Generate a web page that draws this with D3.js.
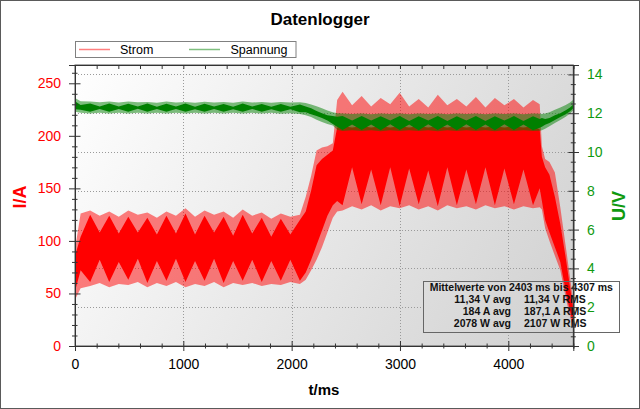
<!DOCTYPE html>
<html><head><meta charset="utf-8">
<script src="https://cdn.jsdelivr.net/npm/d3@7"></script>
<style>
html,body{margin:0;padding:0;background:#fff;}
svg{display:block;font-family:"Liberation Sans",Arial,sans-serif;}
</style></head><body>
<svg id="chart" width="640" height="409"></svg>
<script>
// ---------- data ----------
const chartTitle = "Datenlogger";
const seriesNames = ["Strom", "Spannung"];
const xTickValues = [0, 1000, 2000, 3000, 4000];
const leftTickValues = [0, 50, 100, 150, 200, 250];
const rightTickValues = [0, 2, 4, 6, 8, 10, 12, 14];
const xTitle = "t/ms", leftTitle = "I/A", rightTitle = "U/V";

const timeMs = [0, 52, 140, 228, 316, 404, 492, 580, 668, 756, 844, 932, 1020, 1108, 1196, 1284, 1372, 1460, 1548, 1636, 1724, 1812, 1900, 1988, 2076,
  2130, 2180, 2230, 2280, 2330, 2380,
  2420, 2470, 2558, 2646, 2734, 2822, 2910, 2997, 3085, 3173, 3261, 3349, 3437, 3525, 3613, 3701, 3789, 3876, 3964, 4052, 4140, 4228, 4290,
  4310, 4340, 4380, 4430, 4480, 4530, 4570, 4600];

// Strom (A): outer envelope (light) and dense core (dark)
const stromOuterMax = [92, 126, 129, 124, 128, 123, 129, 125, 127, 122, 128, 124, 131, 123, 129, 125, 128, 122, 130, 124, 127, 121, 126, 123, 125,
  142, 162, 186, 189, 190, 193,
  234, 242, 229, 238, 228, 236, 230, 241, 228, 235, 227, 239, 229, 235, 228, 237, 227, 236, 229, 235, 227, 234, 230,
  190, 178, 175, 165, 132, 95, 65, 42];
const stromOuterMin = [44, 55, 57, 60, 56, 59, 58, 61, 56, 60, 57, 61, 56, 59, 57, 61, 56, 60, 58, 60, 57, 59, 58, 61, 59,
  63, 72, 82, 94, 108, 122,
  128, 129, 133, 130, 134, 129, 133, 131, 134, 130, 133, 129, 134, 131, 133, 130, 134, 131, 133, 130, 133, 131, 132,
  130, 112, 100, 86, 72, 46, 28, 16];
const stromCoreMax = [86, 104, 125, 108, 124, 107, 123, 108, 122, 106, 124, 107, 126, 106, 124, 108, 123, 105, 125, 107, 122, 104, 121, 106, 120,
  128, 148, 172, 178, 182, 186,
  208, 209, 208, 209, 208, 209, 208, 209, 208, 209, 208, 209, 208, 209, 208, 209, 208, 209, 208, 209, 208, 209, 206,
  180, 170, 163, 142, 116, 84, 56, 36];
const stromCoreMin = [52, 72, 61, 82, 61, 80, 63, 83, 60, 81, 62, 83, 61, 81, 62, 83, 60, 81, 62, 82, 61, 81, 62, 82, 62,
  70, 82, 96, 110, 124, 134,
  138, 134, 170, 135, 168, 134, 170, 133, 169, 135, 167, 133, 170, 134, 168, 135, 170, 134, 169, 135, 168, 134, 150,
  138, 120, 108, 94, 80, 52, 33, 21];

// Spannung (V)
const spannOuterMax = [12.78, 12.62, 12.6, 12.56, 12.6, 12.55, 12.6, 12.56, 12.58, 12.54, 12.6, 12.55, 12.58, 12.54, 12.59, 12.55, 12.58, 12.54, 12.6, 12.55, 12.58, 12.54, 12.58, 12.55, 12.56,
  12.52, 12.45, 12.36, 12.26, 12.14, 12.05,
  12.0, 11.98, 11.96, 11.98, 11.95, 11.98, 11.96, 11.99, 11.95, 11.98, 11.96, 11.99, 11.95, 11.98, 11.96, 11.98, 11.95, 11.98, 11.96, 11.98, 11.95, 11.98, 11.97,
  11.96, 11.98, 12.05, 12.18, 12.3, 12.42, 12.55, 12.7];
const spannOuterMin = [12.08, 12.02, 11.98, 12.03, 11.98, 12.02, 11.99, 12.03, 11.98, 12.02, 11.98, 12.03, 11.99, 12.02, 11.98, 12.03, 11.98, 12.02, 11.99, 12.02, 11.98, 12.02, 11.97, 12.0, 11.96,
  11.9, 11.8, 11.66, 11.55, 11.45, 11.36,
  11.15, 11.08, 11.12, 11.08, 11.12, 11.07, 11.12, 11.08, 11.12, 11.08, 11.12, 11.07, 11.12, 11.08, 11.12, 11.08, 11.12, 11.07, 11.12, 11.08, 11.12, 11.08, 11.1,
  11.12, 11.2, 11.33, 11.5, 11.65, 11.82, 11.98, 12.15];
const spannCoreMax = [12.62, 12.42, 12.5, 12.35, 12.5, 12.34, 12.49, 12.35, 12.5, 12.33, 12.49, 12.34, 12.5, 12.33, 12.49, 12.35, 12.48, 12.33, 12.5, 12.34, 12.48, 12.33, 12.47, 12.33, 12.45,
  12.35, 12.25, 12.12, 12.0, 11.9, 11.85,
  11.82, 11.85, 11.62, 11.85, 11.62, 11.84, 11.62, 11.85, 11.6, 11.84, 11.62, 11.85, 11.6, 11.84, 11.62, 11.85, 11.6, 11.84, 11.62, 11.85, 11.6, 11.84, 11.7,
  11.75, 11.7, 11.75, 11.9, 12.0, 12.15, 12.3, 12.45];
const spannCoreMin = [12.2, 12.18, 12.08, 12.22, 12.07, 12.22, 12.08, 12.23, 12.07, 12.22, 12.08, 12.22, 12.08, 12.21, 12.07, 12.22, 12.08, 12.21, 12.08, 12.22, 12.07, 12.21, 12.07, 12.2, 12.05,
  12.05, 11.95, 11.85, 11.75, 11.62, 11.45,
  11.3, 11.13, 11.42, 11.13, 11.42, 11.12, 11.43, 11.13, 11.42, 11.12, 11.43, 11.13, 11.42, 11.12, 11.43, 11.13, 11.42, 11.12, 11.43, 11.13, 11.42, 11.12, 11.25,
  11.3, 11.4, 11.5, 11.65, 11.8, 11.95, 12.1, 12.25];

const infoHeader = "Mittelwerte von 2403 ms bis 4307 ms";
const infoAvg = ["11,34 V avg", "184 A avg", "2078 W avg"];
const infoRms = ["11,34 V RMS", "187,1 A RMS", "2107 W RMS"];

// ---------- layout ----------
const W = 640, H = 409;
const X0 = 75, X1 = 573.3, Y0 = 346, Y1 = 65;
const RED = "#ff0000", GREEN = "#008000", GREEN_TXT = "#0f9a0f";

const svg = d3.select("#chart");
const defs = svg.append("defs");
const grad = defs.append("linearGradient").attr("id", "bg")
  .attr("gradientUnits", "userSpaceOnUse")
  .attr("x1", X0).attr("y1", Y1).attr("x2", X1).attr("y2", Y0);
grad.append("stop").attr("offset", 0).attr("stop-color", "#ffffff");
grad.append("stop").attr("offset", 1).attr("stop-color", "#d0d0d0");
defs.append("clipPath").attr("id", "clip").append("rect")
  .attr("x", X0).attr("y", Y1).attr("width", X1 - X0).attr("height", Y0 - Y1);

svg.append("rect").attr("width", W).attr("height", H).attr("fill", "#fff");

const x = d3.scaleLinear().domain([0, 4600]).range([X0, X1]);
const yL = d3.scaleLinear().domain([0, 267.4]).range([Y0, Y1]);
const yR = d3.scaleLinear().domain([0, 14.485]).range([Y0, Y1]);

// plot background
svg.append("rect").attr("x", X0).attr("y", Y1).attr("width", X1 - X0).attr("height", Y0 - Y1)
  .attr("fill", "url(#bg)");

// grid
const grid = svg.append("g").attr("stroke", "#9a9a9a").attr("stroke-dasharray", "1,2").attr("stroke-width", 1);
grid.selectAll("line.h").data(rightTickValues.filter(v => v > 0)).join("line")
  .attr("x1", X0).attr("x2", X1).attr("y1", d => Math.round(yR(d)) + 0.5).attr("y2", d => Math.round(yR(d)) + 0.5);
grid.selectAll("line.v").data(xTickValues.filter(v => v > 0)).join("line")
  .attr("y1", Y1).attr("y2", Y0).attr("x1", d => Math.round(x(d)) + 0.5).attr("x2", d => Math.round(x(d)) + 0.5);

// info box background: white outside the plot, plot gradient inside
const bx = 423.5, by = 281.5, bw = 196, bh = 51;
svg.append("rect").attr("x", X1).attr("y", by).attr("width", bx + bw - X1).attr("height", bh).attr("fill", "#fff");
svg.append("rect").attr("x", bx).attr("y", by).attr("width", X1 - bx).attr("height", bh).attr("fill", "url(#bg)");

// data
const rows = timeMs.map((t, i) => ({
  t, sOMax: stromOuterMax[i], sOMin: stromOuterMin[i], sCMax: stromCoreMax[i], sCMin: stromCoreMin[i],
  uOMax: spannOuterMax[i], uOMin: spannOuterMin[i], uCMax: spannCoreMax[i], uCMin: spannCoreMin[i]
}));
const plot = svg.append("g").attr("clip-path", "url(#clip)");
const area = (y, lo, hi) => d3.area().x(d => x(d.t)).y0(d => y(d[lo])).y1(d => y(d[hi]));
plot.append("path").datum(rows).attr("d", area(yL, "sOMin", "sOMax")).attr("fill", RED).attr("fill-opacity", 0.5);
plot.append("path").datum(rows).attr("d", area(yL, "sCMin", "sCMax")).attr("fill", RED);
plot.append("path").datum(rows).attr("d", area(yR, "uOMin", "uOMax")).attr("fill", GREEN).attr("fill-opacity", 0.5);
plot.append("path").datum(rows).attr("d", area(yR, "uCMin", "uCMax")).attr("fill", GREEN);

// plot frame
svg.append("rect").attr("x", X0).attr("y", Y1).attr("width", X1 - X0).attr("height", Y0 - Y1)
  .attr("fill", "none").attr("stroke", "#555");

// info box frame + text
svg.append("rect").attr("x", bx).attr("y", by).attr("width", bw).attr("height", bh)
  .attr("fill", "none").attr("stroke", "#666");
const it = svg.append("g").style("font-size", "10.5px").style("font-weight", "bold").attr("fill", "#111");
it.append("text").attr("x", 521.3).attr("y", 291).attr("text-anchor", "middle").text(infoHeader);
infoAvg.forEach((s, i) => {
  it.append("text").attr("x", 511).attr("y", 303 + i * 12).attr("text-anchor", "end").text(s);
  it.append("text").attr("x", 524).attr("y", 303 + i * 12).attr("text-anchor", "start").text(infoRms[i]);
});

// axes
function finish(g) { g.select(".domain").attr("stroke", "#333"); g.selectAll(".tick line").attr("stroke", "#333"); }
const fs = "14px";
const fam = "Liberation Sans, Arial, sans-serif";
// left
const gL = svg.append("g").attr("transform", `translate(${X0},0)`);
gL.call(d3.axisLeft(yL).tickValues(d3.range(0, 267, 10).filter(v => !leftTickValues.includes(v))).tickSize(3).tickFormat(""));
gL.selectAll(".tick line").attr("x1", 2.5);
const gL2 = svg.append("g").attr("transform", `translate(${X0},0)`);
gL2.call(d3.axisLeft(yL).tickValues(leftTickValues).tickSize(6).tickPadding(8).tickFormat(d3.format("d")));
gL2.selectAll(".tick line").attr("x1", 5.5);
gL2.selectAll(".tick text").attr("fill", RED).style("font-size", fs).style("font-family", fam);
finish(gL); finish(gL2);
// right
const gR = svg.append("g").attr("transform", `translate(${X1},0)`);
gR.call(d3.axisRight(yR).tickValues(d3.range(0, 14.49, 0.5).filter(v => !rightTickValues.includes(v))).tickSize(2.5).tickFormat(""));
gR.selectAll(".tick line").attr("x1", -2.5);
const gR2 = svg.append("g").attr("transform", `translate(${X1},0)`);
gR2.call(d3.axisRight(yR).tickValues(rightTickValues).tickSize(5.7).tickPadding(8).tickFormat(d3.format("d")));
gR2.selectAll(".tick line").attr("x1", -5);
gR2.selectAll(".tick text").attr("fill", GREEN_TXT).style("font-size", fs).style("font-family", fam);
finish(gR); finish(gR2);
// bottom
const gB = svg.append("g").attr("transform", `translate(0,${Y0})`);
gB.call(d3.axisBottom(x).tickValues(d3.range(0, 4601, 200).filter(v => !xTickValues.includes(v))).tickSize(2.5).tickFormat(""));
gB.selectAll(".tick line").attr("y1", -2.5);
const gB2 = svg.append("g").attr("transform", `translate(0,${Y0})`);
gB2.call(d3.axisBottom(x).tickValues(xTickValues).tickSize(5).tickPadding(8).tickFormat(d3.format("d")));
gB2.selectAll(".tick line").attr("y1", -5);
gB2.selectAll(".tick text").attr("fill", "#000").style("font-size", fs).style("font-family", fam);
finish(gB); finish(gB2);
// top (ticks inward)
const gT = svg.append("g").attr("transform", `translate(0,${Y1})`);
gT.call(d3.axisBottom(x).tickValues(d3.range(0, 4601, 200)).tickSize(4).tickFormat(""));
finish(gT);

// axis titles
svg.append("text").attr("transform", `translate(26,197) rotate(-90)`).attr("text-anchor", "middle")
  .attr("fill", RED).style("font-size", "18px").style("font-weight", "bold").text(leftTitle);
svg.append("text").attr("transform", `translate(625,206) rotate(-90)`).attr("text-anchor", "middle")
  .attr("fill", GREEN_TXT).style("font-size", "18px").style("font-weight", "bold").text(rightTitle);
svg.append("text").attr("x", 324).attr("y", 395).attr("text-anchor", "middle")
  .style("font-size", "15px").style("font-weight", "bold").text(xTitle);

// title
svg.append("text").attr("x", 320).attr("y", 25).attr("text-anchor", "middle")
  .style("font-size", "17px").style("font-weight", "bold").text(chartTitle);

// legend
const lg = svg.append("g");
lg.append("rect").attr("x", 75.5).attr("y", 41.5).attr("width", 220.5).attr("height", 16)
  .attr("fill", "#fff").attr("stroke", "#808080");
const legendItems = [{ n: seriesNames[0], c: RED, lx: 79, tx: 120 }, { n: seriesNames[1], c: GREEN, lx: 189, tx: 230.5 }];
legendItems.forEach(d => {
  lg.append("line").attr("x1", d.lx).attr("x2", d.lx + 31).attr("y1", 49.5).attr("y2", 49.5)
    .attr("stroke", d.c).attr("stroke-opacity", 0.5).attr("stroke-width", 1.5);
  lg.append("text").attr("x", d.tx).attr("y", 54).style("font-size", "12.5px").text(d.n);
});

// outer frame
svg.append("rect").attr("x", 0.5).attr("y", 0.5).attr("width", W - 1).attr("height", H - 1)
  .attr("fill", "none").attr("stroke", "#5a5a5a");
</script>
</body></html>
